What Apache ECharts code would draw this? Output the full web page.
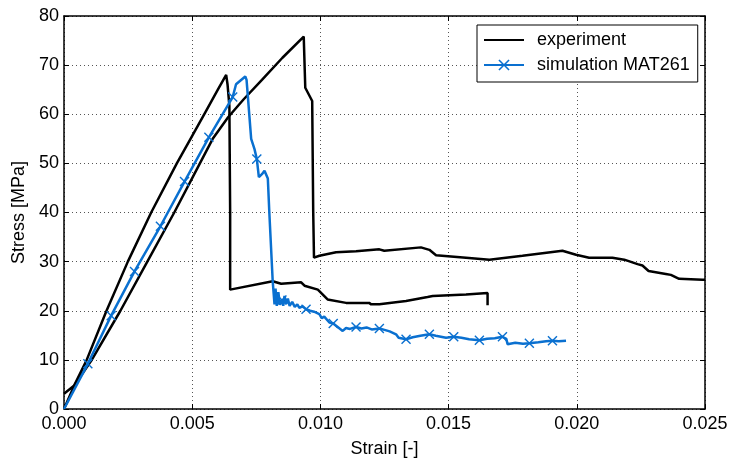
<!DOCTYPE html>
<html><head><meta charset="utf-8">
<script src="https://cdn.jsdelivr.net/npm/echarts@6/dist/echarts.min.js"></script>
<style>html,body{margin:0;padding:0;background:#fff}#c{width:731px;height:463px}</style>
</head><body><div id="c"></div>
<script>
// experiment, specimen 1
const exp1Strain=[0,0.0004,0.00087,0.00165,0.00249,0.0034,0.0044,0.005,0.0055,0.006,0.006325,0.00638,0.00645,0.00648,0.00648,0.00652,0.00814,0.00847,0.00925,0.00938,0.0099,0.01028,0.0110,0.0119,0.01198,0.0123,0.01334,0.01418,0.01438,0.01568,0.01652,0.01652];
const exp1Stress=[3.1,4.8,9.8,19.9,30.0,40.0,50.0,55.6,60.3,65.0,68.0,66.0,61.7,40.0,24.3,24.3,26.0,25.5,25.8,25.1,24.3,22.3,21.6,21.6,21.3,21.3,22.0,22.8,23.0,23.3,23.6,21.1];
// experiment, specimen 2
const exp2Strain=[0,0.0004,0.00106,0.0022,0.00325,0.0043,0.0053,0.0058,0.0064,0.0070,0.00772,0.00852,0.00935,0.00941,0.00968,0.00972,0.00975,0.00996,0.01061,0.01139,0.0123,0.01249,0.01392,0.01425,0.01451,0.01568,0.01659,0.01788,0.01944,0.01997,0.02048,0.02139,0.02185,0.02237,0.02256,0.0228,0.02347,0.02367,0.02399,0.0249,0.025];
const exp2Stress=[0,4.8,9.8,20.0,30.0,40.0,50.0,55.0,59.4,63.0,67.0,71.5,75.8,65.4,62.7,40.0,30.8,31.2,31.9,32.1,32.5,32.2,32.9,32.4,31.3,30.8,30.4,31.2,32.2,31.4,30.8,30.8,30.4,29.5,29.2,28.1,27.5,27.3,26.5,26.3,26.3];
// simulation MAT261
const simStrain=[0,0.00093,0.00184,0.00275,0.00376,0.0047,0.00565,0.00658,0.00671,0.00707,0.00712,0.00717,0.0073,0.00743,0.00752,0.0076,0.00772,0.00782,0.00795,0.00801,0.00804,0.00814,0.00821,0.00825,0.0083,0.00836,0.00842,0.0085,0.00855,0.0086,0.00867,0.00873,0.0088,0.0089,0.009,0.0091,0.00918,0.0093,0.00944,0.0096,0.00975,0.00996,0.01005,0.01015,0.01035,0.0105,0.01065,0.01087,0.011,0.01115,0.01139,0.0116,0.0118,0.012,0.0123,0.0125,0.0127,0.01295,0.01305,0.01334,0.0136,0.0139,0.01425,0.0145,0.0149,0.0152,0.0155,0.0158,0.0162,0.0165,0.0168,0.0171,0.01725,0.0173,0.0176,0.0179,0.01815,0.0185,0.0188,0.01905,0.0193,0.01958];
const simStress=[0,9.2,19.0,28.0,37.2,46.3,55.3,63.5,66.1,67.7,67.0,63.7,55.0,52.9,50.9,47.2,47.8,48.5,46.9,39.8,39.5,26.0,21.3,24.5,21.0,23.8,21.2,22.2,21.0,23.0,21.4,22.5,21.0,21.8,20.8,21.3,20.6,20.9,20.3,20.0,19.8,19.3,18.5,18.8,17.6,17.4,16.8,15.9,16.5,16.3,16.7,16.4,16.6,16.2,16.4,16.1,15.8,15.2,14.5,14.2,14.6,14.9,15.2,14.9,14.5,14.7,14.5,14.2,14.0,14.3,14.4,14.7,14.3,13.2,13.5,13.3,13.4,13.6,13.8,13.9,13.8,13.9];
const simMarkerStrain=[0.00093,0.00184,0.00275,0.00376,0.0047,0.00565,0.00658,0.00752,0.0085,0.00944,0.0105,0.01139,0.0123,0.01334,0.01425,0.0152,0.0162,0.0171,0.01815,0.01905];
const xTickLabels=['0.000','0.005','0.010','0.015','0.020','0.025'];
const yTickLabels=['0','10','20','30','40','50','60','70','80'];

const FONT='Liberation Sans, Arial, sans-serif';
const BLUE='#0a70d0';
const XPATH='path://M0,1L1,0L5,4L9,0L10,1L6,5L10,9L9,10L5,6L1,10L0,9L4,5Z';
const pair=(xs,ys)=>xs.map((x,i)=>[x,ys[i]]);
const simData=simStrain.map((x,i)=>({value:[x,simStress[i]],symbol:simMarkerStrain.includes(x)?XPATH:'none'}));

const axisCommon={axisLine:{show:true,onZero:false,lineStyle:{color:'#000',width:1.5}},
  axisTick:{show:true,inside:true,length:5,lineStyle:{color:'#000',width:1}}};
const chart=echarts.init(document.getElementById('c'),null,{renderer:'canvas'});
chart.setOption({
  animation:false,
  backgroundColor:'#fff',
  grid:{left:64,right:26,top:16,bottom:51,containLabel:false},
  legend:{orient:'vertical',left:477,top:25,padding:[6,8,8,6],itemWidth:40,itemHeight:14,itemGap:7,
    borderColor:'#000',borderWidth:1,backgroundColor:'#fff',borderRadius:0,
    textStyle:{fontFamily:FONT,fontSize:18,color:'#000',padding:[0,0,0,8]},
    data:['experiment','simulation MAT261']},
  xAxis:[
    Object.assign({type:'value',min:0,max:0.025,interval:0.005,position:'bottom',
      name:'Strain [-]',nameLocation:'middle',nameGap:31,
      nameTextStyle:{fontFamily:FONT,fontSize:18,color:'#000'},
      axisLabel:{fontFamily:FONT,fontSize:18,color:'#000',margin:6,formatter:(v)=>xTickLabels[Math.round(v/0.005)]},
      splitLine:{show:true,lineStyle:{type:[1,3],color:'#555',width:1}}},axisCommon),
    Object.assign({type:'value',min:0,max:0.025,interval:0.005,position:'top',
      axisLabel:{show:false},splitLine:{show:false}},axisCommon)
  ],
  yAxis:[
    Object.assign({type:'value',min:0,max:80,interval:10,position:'left',
      name:'Stress [MPa]',nameLocation:'middle',nameGap:27,
      nameTextStyle:{fontFamily:FONT,fontSize:18,color:'#000'},
      axisLabel:{fontFamily:FONT,fontSize:18,color:'#000',margin:5,formatter:(v)=>yTickLabels[Math.round(v/10)]},
      splitLine:{show:true,lineStyle:{type:[1,3],color:'#555',width:1}}},axisCommon),
    Object.assign({type:'value',min:0,max:80,interval:10,position:'right',
      axisLabel:{show:false},splitLine:{show:false}},axisCommon)
  ],
  series:[
    {name:'experiment',type:'line',data:pair(exp1Strain,exp1Stress),symbol:'circle',showSymbol:false,
      lineStyle:{color:'#000',width:2.5},itemStyle:{color:'rgba(0,0,0,0)'},z:3},
    {name:'experiment',type:'line',data:pair(exp2Strain,exp2Stress),symbol:'circle',showSymbol:false,
      lineStyle:{color:'#000',width:2.5},itemStyle:{color:'rgba(0,0,0,0)'},z:3},
    {name:'simulation MAT261',type:'line',data:simData,symbol:XPATH,symbolSize:10,
      showSymbol:true,showAllSymbol:true,
      lineStyle:{color:BLUE,width:2.5},itemStyle:{color:BLUE},z:4}
  ]
});
</script></body></html>
